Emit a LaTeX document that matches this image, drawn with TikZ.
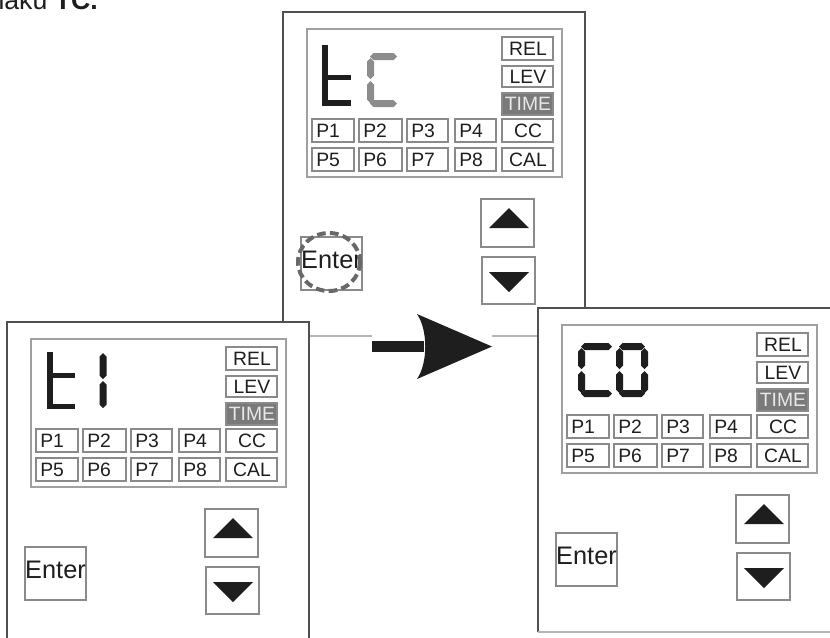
\documentclass[tikz,border=0pt]{standalone}
\usepackage{fontspec}
\setmainfont{Liberation Sans}
\definecolor{ink}{HTML}{1E1E1E}
\definecolor{boxline}{HTML}{8A8A8A}
\definecolor{panelline}{HTML}{505050}
\definecolor{panelbot}{HTML}{B4B4B4}
\definecolor{lcdline}{HTML}{A0A0A0}
\definecolor{timefill}{HTML}{7A7A7A}
\definecolor{timetext}{HTML}{E8E8E8}
\definecolor{dimseg}{HTML}{8C8C8C}
\definecolor{ringgray}{HTML}{686868}
\tikzset{
  x=0.75pt, y=-0.75pt,
  lbl/.style={font=\fontsize{14.5}{14.5}\selectfont, text=ink, inner sep=0pt, anchor=base},
  plbl/.style={lbl, anchor=base west},
  enterlbl/.style={font=\fontsize{19}{19}\selectfont, text=ink, inner sep=0pt, anchor=base},
  kbox/.style={draw=boxline, line width=1pt, fill=white},
}
\newcommand\kbc[6]{\draw[kbox] (#2,#3) rectangle (#4,#5);
  \node[lbl] (#1) at ({(#2+#4)/2+0.5},{(#3+#5)/2+6.9}) {#6};}
\newcommand\kbl[6]{\draw[kbox] (#2,#3) rectangle (#4,#5);
  \node[plbl] (#1) at ({#2+4},{(#3+#5)/2+6.9}) {#6};}
\newcommand\hseg[4]{\fill[#1] (#2,#4) -- ({#2+3.5},{#4-3.5}) -- ({#3-3.5},{#4-3.5}) -- (#3,#4) -- ({#3-3.5},{#4+3.5}) -- ({#2+3.5},{#4+3.5}) -- cycle;}
\newcommand\vseg[4]{\fill[#1] (#2,#3) -- ({#2+3.5},{#3+3.5}) -- ({#2+3.5},{#4-3.5}) -- (#2,#4) -- ({#2-3.5},{#4-3.5}) -- ({#2-3.5},{#3+3.5}) -- cycle;}
\newcommand\panelbody[1]{%
  \fill[white] (0,0) rectangle (302,324);
  \draw[panelline, line width=1.1pt] (0,324) -- (0,0) -- (302,0) -- (302,324);
  \draw[panelbot, line width=1.1pt] (0,324) -- (302,324);
  \draw[lcdline, line width=1.1pt] (24,17) rectangle (279,165);
  \kbc{#1rel}{219}{25}{270}{48}{REL}
  \kbc{#1lev}{219}{54}{270}{75}{LEV}
  \draw[kbox, fill=timefill] (219,81) rectangle (270,103);
  \node[lbl, text=timetext] (#1time) at (245,98.9) {TIME};
  \kbl{#1pa}{29}{107}{71}{130}{P1}
  \kbl{#1pb}{76}{107}{119}{130}{P2}
  \kbl{#1pc}{124}{107}{165}{130}{P3}
  \kbl{#1pd}{172}{107}{213}{130}{P4}
  \kbc{#1cc}{219}{107}{270}{130}{CC}
  \kbl{#1pe}{29}{136}{71}{159}{P5}
  \kbl{#1pf}{76}{136}{119}{159}{P6}
  \kbl{#1pg}{124}{136}{165}{159}{P7}
  \kbl{#1ph}{172}{136}{213}{159}{P8}
  \kbc{#1cal}{219}{136}{270}{159}{CAL}
  \draw[kbox] (198,187) rectangle (251,235);
  \fill[ink] (206,216) -- (246,216) -- (226,196) -- cycle;
  \draw[kbox] (199,245) rectangle (252,292);
  \fill[ink] (206,260) -- (246,260) -- (226,280) -- cycle;
  \draw[kbox] (18,225) rectangle (79,278);
  \node[enterlbl] (#1enter) at (48.5,256) {Enter};
}
\begin{document}
\begin{tikzpicture}
\useasboundingbox (0,0) rectangle (830,637);
\fill[white] (0,0) rectangle (830,637);
\node[font=\fontsize{20}{20}\selectfont, text=ink, anchor=base east, inner sep=0pt] (hdr) at (98,9.5) {znaku \textbf{TC.}};
% top panel
\begin{scope}[shift={(283,12)}]
  \panelbody{T}
  \fill[ink] (39,33) rectangle (45,94);
  \fill[ink] (39,63) rectangle (68,68);
  \fill[ink] (39,88) rectangle (68,94);
  \hseg{dimseg}{87}{114}{44.5}
  \vseg{dimseg}{87.5}{46}{67}
  \vseg{dimseg}{87.5}{69}{91}
  \hseg{dimseg}{87}{114}{91.5}
  \draw[ringgray, line width=3pt, dash pattern=on 6.5pt off 3.2pt] (46,250) ellipse [x radius=31, y radius=29];
\end{scope}
% left panel
\begin{scope}[shift={(7,322)}]
  \panelbody{L}
  \fill[ink] (40,30) rectangle (46,87);
  \fill[ink] (40,51) rectangle (68,56);
  \fill[ink] (40,82) rectangle (68,87);
  \vseg{ink}{96}{31}{57}
  \vseg{ink}{96}{59}{86}
\end{scope}
% right panel
\begin{scope}[shift={(538,308)}]
  \panelbody{R}
  \hseg{ink}{43}{74}{38.5}
  \vseg{ink}{43.5}{40}{61}
  \vseg{ink}{43.5}{63}{85}
  \hseg{ink}{43}{74}{85.5}
  \hseg{ink}{81}{107}{38.5}
  \vseg{ink}{81.5}{40}{61}
  \vseg{ink}{81.5}{63}{85}
  \vseg{ink}{106.5}{40}{61}
  \vseg{ink}{106.5}{63}{85}
  \hseg{ink}{81}{107}{85.5}
\end{scope}
% big arrow
\fill[white] (372,332) rectangle (492,340);
\fill[ink] (372,341) rectangle (424,352);
\fill[ink] (417,314) .. controls (428,330) and (428,363) .. (417,379) -- (492,346.5) -- cycle;
\end{tikzpicture}
\end{document}
